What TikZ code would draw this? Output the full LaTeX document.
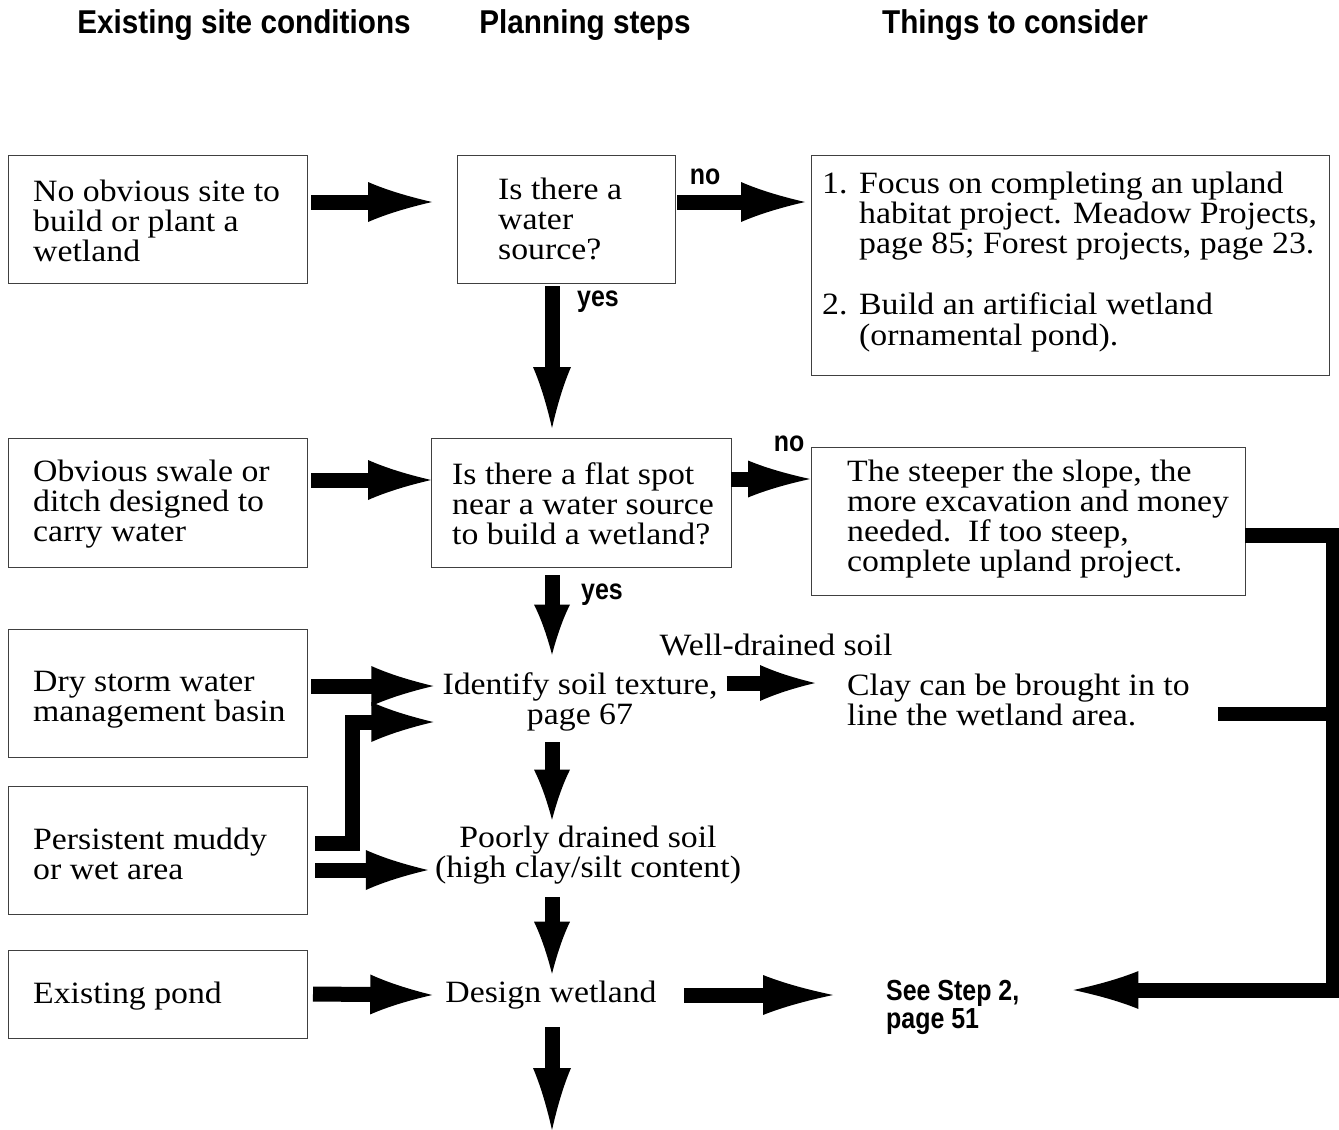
\documentclass[tikz,border=0pt]{standalone}
\usepackage{fontspec}
\setmainfont[FakeStretch=1.09]{Liberation Serif}
\newfontfamily\hdfont[FakeStretch=0.9]{Liberation Sans}
\newfontfamily\lbfont[FakeStretch=0.86]{Liberation Sans}
\usetikzlibrary{arrows.meta,calc}

\pgfdeclarearrow{
  name = Fat,
  defaults = {length = 62pt, width = 40pt},
  parameters = {\the\pgfarrowlength,\the\pgfarrowwidth},
  setup code = {
    \pgfarrowssettipend{0pt}
    \pgfarrowssetlineend{-.8\pgfarrowlength}
    \pgfarrowssetbackend{-\pgfarrowlength}
    \pgfarrowshullpoint{0pt}{0pt}
    \pgfarrowsupperhullpoint{-\pgfarrowlength}{.5\pgfarrowwidth}
    \pgfarrowssavethe\pgfarrowlength
    \pgfarrowssavethe\pgfarrowwidth
  },
  drawing code = {
    \pgfpathmoveto{\pgfqpoint{0pt}{0pt}}
    \pgfpathcurveto{\pgfqpoint{-.35\pgfarrowlength}{.13\pgfarrowwidth}}{\pgfqpoint{-.7\pgfarrowlength}{.29\pgfarrowwidth}}{\pgfqpoint{-\pgfarrowlength}{.5\pgfarrowwidth}}
    \pgfpathlineto{\pgfqpoint{-\pgfarrowlength}{-.5\pgfarrowwidth}}
    \pgfpathcurveto{\pgfqpoint{-.7\pgfarrowlength}{-.29\pgfarrowwidth}}{\pgfqpoint{-.35\pgfarrowlength}{-.13\pgfarrowwidth}}{\pgfqpoint{0pt}{0pt}}
    \pgfpathclose
    \pgfusepathqfill
  }
}

\newcommand\serifsz{\fontsize{31pt}{30pt}\selectfont}

\tikzset{
  box/.style={draw=black!75, line width=1pt, rectangle, anchor=north west, outer sep=0pt, inner sep=0pt},
  txt/.style={inner sep=0pt, font=\serifsz},
  hdr/.style={inner sep=0pt, font=\hdfont\bfseries\fontsize{33pt}{36pt}\selectfont},
  lbl/.style={inner sep=0pt, font=\lbfont\bfseries\fontsize{29pt}{28pt}\selectfont},
  fat/.style 2 args={line width=15pt, line join=miter, -{Fat[length=#1pt,width=#2pt]}},
  shaftline/.style={line width=14pt, line join=miter, line cap=butt},
}

\begin{document}
\begin{tikzpicture}[x=1pt,y=-1pt]
\useasboundingbox (0,0) rectangle (1339,1130);

% headers
\node[hdr] (h1) at (244,25) {Existing site conditions};
\node[hdr] (h2) at (585,25) {Planning steps};
\node[hdr] (h3) at (1015,25) {Things to consider};

% left column boxes
\node[box, minimum width=299pt, minimum height=128pt] (A) at (8,155) {};
\node[txt, anchor=west, align=left] (At) at ([shift={(25,2)}]A.west) {No obvious site to\\build or plant a\\wetland};
\node[box, minimum width=299pt, minimum height=129pt] (B) at (8,438) {};
\node[txt, anchor=west, align=left] (Bt) at ([shift={(25,2)}]B.west) {Obvious swale or\\ditch designed to\\carry water};
\node[box, minimum width=299pt, minimum height=128pt] (C) at (8,629) {};
\node[txt, anchor=west, align=left] (Ct) at ([shift={(25,7)}]C.west) {Dry storm water\\management basin};
\node[box, minimum width=299pt, minimum height=128pt] (D) at (8,786) {};
\node[txt, anchor=west, align=left] (Dt) at ([shift={(25,4)}]D.west) {Persistent muddy\\or wet area};
\node[box, minimum width=299pt, minimum height=88pt] (E) at (8,950) {};
\node[txt, anchor=west, align=left] (Et) at ([shift={(25,2)}]E.west) {Existing pond};

% planning column
\node[box, minimum width=218pt, minimum height=128pt] (Q1) at (457,155) {};
\node[txt, anchor=west, align=left] (Q1t) at ([shift={(41,0)}]Q1.west) {Is there a\\water\\source?};
\node[box, minimum width=300pt, minimum height=129pt] (Q2) at (431,438) {};
\node[txt, anchor=west, align=left] (Q2t) at ([shift={(21,1)}]Q2.west) {Is there a flat spot\\near a water source\\to build a wetland?};
\node[txt, align=center] (Id) at (580,702) {Identify soil texture,\\page 67};
\node[txt, align=center] (Po) at (588,855) {Poorly drained soil\\(high clay/silt content)};
\node[txt] (De) at (551,995) {Design wetland};

% consider column
\node[box, minimum width=518pt, minimum height=220pt] (R1) at (811,155) {};
\node[txt, anchor=west] (R1t) at ([shift={(11,-2)}]R1.west) {%
  \begin{tabular}{@{}p{37pt}@{}l@{}}
  1. & Focus on completing an upland\\
     & habitat project. Meadow Projects,\\
     & page 85; Forest projects, page 23.\\[30pt]
  2. & Build an artificial wetland\\
     & (ornamental pond).
  \end{tabular}};
\node[box, minimum width=434pt, minimum height=148pt] (R2) at (811,447) {};
\node[txt, anchor=west, align=left] (R2t) at ([shift={(36,-2)}]R2.west) {The steeper the slope, the\\more excavation and money\\needed.\ \ If too steep,\\complete upland project.};
\node[txt] (Wd) at (776,645) {Well-drained soil};
\node[txt, anchor=west, align=left] (Cl) at (847,700) {Clay can be brought in to\\line the wetland area.};
\node[lbl, anchor=west, align=left] (See) at (886,1007) {See Step 2,\\page 51};

% yes/no labels
\node[lbl] (no1) at (705,177) {no};
\node[lbl] (yes1) at (598,302) {yes};
\node[lbl] (no2) at (789,444) {no};
\node[lbl] (yes2) at (602,595) {yes};

% free coordinates
\coordinate (bx) at (1333,714);
\coordinate (bottom) at (552,1130);

% connectors
\draw[fat={64}{40}] ([shift={(4,-17)}]A.east) -- ([shift={(-25,-17)}]Q1.west);
\draw[fat={64}{40}] ([shift={(2,-17)}]Q1.east) -- ([shift={(-6,-63)}]R1.west);
\draw[fat={61}{38}] ([shift={(-14,3)}]Q1.south) -- ([shift={(-29,-10)}]Q2.north);
\draw[fat={62}{37}] ([shift={(0,-23.5)}]Q2.east) -- ([shift={(-1,-42)}]R2.west);
\draw[fat={63}{40}] ([shift={(4,-22.5)}]B.east) -- ([shift={(0,-22.5)}]Q2.west);
\draw[fat={50}{36}] ([shift={(-29,8)}]Q2.south) -- ([shift={(-28,-18)}]Id.north);
\draw[fat={62}{40}] ([shift={(4,-7)}]C.east) -- ([shift={(-9,-16)}]Id.west);
\draw[fat={62}{40}] ([shift={(8,-7)}]D.east) -- ++(37,0) |- ([shift={(-9,20)}]Id.west);
\draw[fat={62}{40}] ([shift={(8,20)}]D.east) -- ([shift={(-7,15)}]Po.west);
\draw[fat={55}{36}] ([shift={(9,-19)}]Id.east) -- ([shift={(-32,-17)}]Cl.west);
\draw[fat={50}{36}] ([shift={(-28,11)}]Id.south) -- ([shift={(-36,-6)}]Po.north);
\draw[fat={52}{36}] ([shift={(-36,13)}]Po.south) -- ([shift={(1,-7)}]De.north);
\draw[fat={62}{40}] ([shift={(6,0)}]E.east) -- ([shift={(-13,0)}]De.west);
\draw[fat={70}{40}] ([shift={(27,0)}]De.east) -- ([shift={(-53,-12)}]See.west);
\draw[fat={62}{38}] ([shift={(1,18)}]De.south) -- (bottom);
\draw[fat={65}{38}] ([shift={(0,14)}]R2.east) -| (bx) |- ([shift={(54,-17)}]See.east);
\draw[shaftline] ([shift={(28,14)}]Cl.east) -- (bx);
\end{tikzpicture}
\end{document}
